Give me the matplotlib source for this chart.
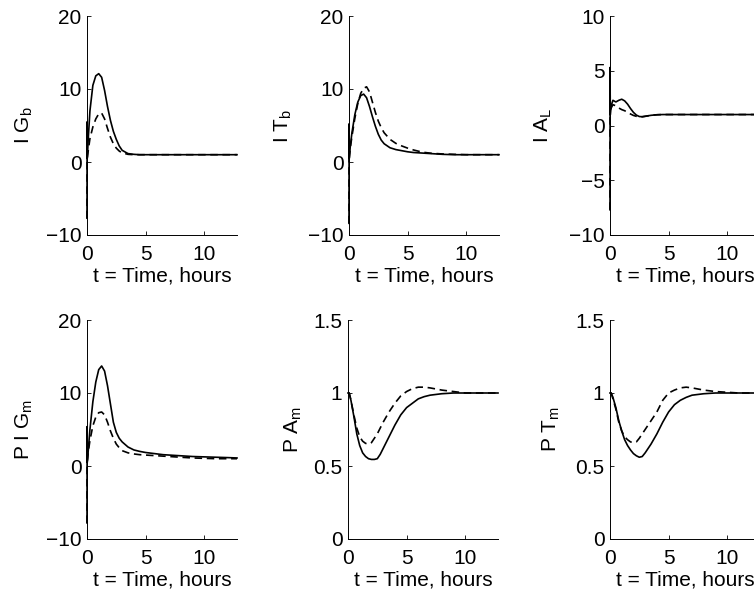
import matplotlib
matplotlib.use("Agg")
import matplotlib.pyplot as plt

plt.rcParams['font.family'] = ['Liberation Sans', 'DejaVu Sans']
plt.rcParams['font.size'] = 15

# time points (hours)
t = [0, 0.01, 0.02, 0.1, 0.25, 0.5, 0.75, 1.0, 1.25, 1.5, 1.75, 2.0, 2.25, 2.5, 2.75,
     3.0, 3.5, 4.0, 4.5, 5.0, 5.5, 6.0, 6.5, 7.0, 8.0, 9.0, 10.0, 11.0, 12.0, 12.8]

# I G_b
ig_b_solid = [-7.7, 5.5, 0.5, 3.0, 7.0, 10.5, 11.8, 12.1, 11.6, 9.8, 7.6, 5.7, 4.2, 3.1, 2.2,
              1.6, 1.15, 1.05, 1.0, 1.0, 1.0, 1.0, 1.0, 1.0, 1.0, 1.0, 1.0, 1.0, 1.0, 1.0]
ig_b_dash = [-7.7, 5.5, 0.5, 1.5, 3.2, 4.8, 5.9, 6.6, 6.7, 5.9, 4.6, 3.4, 2.5, 1.9, 1.5,
             1.25, 1.05, 1.0, 1.0, 1.0, 1.0, 1.0, 1.0, 1.0, 1.0, 1.0, 1.0, 1.0, 1.0, 1.0]

# I T_b
it_b_solid = [-8.4, 5.2, 0.5, 2.0, 4.0, 6.5, 8.2, 9.1, 9.3, 8.8, 7.6, 6.2, 4.9, 3.8, 3.0,
              2.5, 1.95, 1.7, 1.55, 1.4, 1.3, 1.25, 1.2, 1.15, 1.05, 1.0, 1.0, 1.0, 1.0, 1.0]
it_b_dash = [-8.4, 5.2, 0.5, 1.8, 3.5, 6.0, 8.0, 9.4, 10.1, 10.3, 9.6, 8.2, 6.8, 5.6, 4.7,
             4.0, 3.1, 2.55, 2.2, 1.9, 1.65, 1.45, 1.3, 1.2, 1.1, 1.05, 1.0, 1.0, 1.0, 1.0]

# I A_L
ia_l_solid = [-7.7, 5.3, 1.0, 1.8, 2.3, 2.15, 2.3, 2.4, 2.25, 1.95, 1.55, 1.2, 0.95, 0.82, 0.8,
              0.84, 0.93, 0.98, 1.0, 1.0, 1.0, 1.0, 1.0, 1.0, 1.0, 1.0, 1.0, 1.0, 1.0, 1.0]
ia_l_dash = [-7.7, 5.3, 1.0, 1.6, 1.9, 1.8, 1.6, 1.45, 1.35, 1.2, 1.05, 0.92, 0.84, 0.8, 0.8,
             0.84, 0.93, 0.98, 1.0, 1.0, 1.0, 1.0, 1.0, 1.0, 1.0, 1.0, 1.0, 1.0, 1.0, 1.0]

# P I G_m
pig_m_solid = [-7.8, 5.4, 0.5, 2.0, 5.0, 8.8, 11.5, 13.2, 13.7, 13.0, 11.0, 8.5, 6.0, 4.6, 3.8,
               3.3, 2.6, 2.2, 2.0, 1.85, 1.75, 1.65, 1.55, 1.5, 1.4, 1.3, 1.25, 1.2, 1.15, 1.1]
pig_m_dash = [-7.8, 5.4, 0.5, 1.8, 3.5, 5.5, 6.7, 7.3, 7.4, 7.0, 6.0, 4.8, 3.8, 3.0, 2.5,
              2.1, 1.8, 1.65, 1.55, 1.5, 1.45, 1.4, 1.35, 1.3, 1.2, 1.1, 1.05, 1.0, 1.0, 1.0]

# P A_m
pa_m_solid = [1.0, 1.0, 1.0, 1.0, 0.95, 0.84, 0.72, 0.64, 0.59, 0.565, 0.55, 0.545, 0.545, 0.55, 0.58,
              0.62, 0.7, 0.78, 0.85, 0.9, 0.93, 0.96, 0.975, 0.985, 0.995, 1.0, 1.0, 1.0, 1.0, 1.0]
pa_m_dash = [1.0, 1.0, 1.0, 1.0, 0.95, 0.85, 0.76, 0.7, 0.67, 0.655, 0.65, 0.66, 0.69, 0.72, 0.76,
             0.8, 0.87, 0.93, 0.98, 1.01, 1.03, 1.04, 1.04, 1.035, 1.02, 1.01, 1.0, 1.0, 1.0, 1.0]

# P T_m
pt_m_solid = [1.0, 1.0, 1.0, 1.0, 0.97, 0.9, 0.81, 0.74, 0.68, 0.64, 0.61, 0.585, 0.57, 0.56, 0.565,
              0.59, 0.65, 0.72, 0.8, 0.87, 0.92, 0.95, 0.97, 0.985, 0.995, 1.0, 1.0, 1.0, 1.0, 1.0]
pt_m_dash = [1.0, 1.0, 1.0, 1.0, 0.96, 0.89, 0.8, 0.74, 0.7, 0.68, 0.665, 0.66, 0.665, 0.69, 0.72,
             0.75, 0.81, 0.87, 0.95, 1.0, 1.02, 1.035, 1.04, 1.035, 1.02, 1.01, 1.005, 1.0, 1.0, 1.0]

ylabels = ['I G$_\\mathregular{b}$', 'I T$_\\mathregular{b}$', 'I A$_\\mathregular{L}$',
           'P I G$_\\mathregular{m}$', 'P A$_\\mathregular{m}$', 'P T$_\\mathregular{m}$']
solids = [ig_b_solid, it_b_solid, ia_l_solid, pig_m_solid, pa_m_solid, pt_m_solid]
dashes = [ig_b_dash, it_b_dash, ia_l_dash, pig_m_dash, pa_m_dash, pt_m_dash]
ylims = [(-10, 20), (-10, 20), (-10, 10), (-10, 20), (0, 1.5), (0, 1.5)]
yticks = [[-10, 0, 10, 20], [-10, 0, 10, 20], [-10, -5, 0, 5, 10],
          [-10, 0, 10, 20], [0, 0.5, 1, 1.5], [0, 0.5, 1, 1.5]]
ytick_labels = [['\u221210', '0', '10', '20'], ['\u221210', '0', '10', '20'],
                ['\u221210', '\u22125', '0', '5', '10'], ['\u221210', '0', '10', '20'],
                ['0', '0.5', '1', '1.5'], ['0', '0.5', '1', '1.5']]

# axes placement in pixels (left, top) for a 754x593 figure
W, H = 754, 593
lefts = [87, 349, 610, 87, 348, 610]
tops = [16, 16, 16, 320, 320, 320]
label_x = [-0.35, -0.37, -0.37, -0.35, -0.29, -0.32]
aw, ah = 150, 219

fig = plt.figure(figsize=(W / 100, H / 100), dpi=100)

for i in range(6):
    ax = fig.add_axes([lefts[i] / W, 1 - (tops[i] + ah) / H, aw / W, ah / H])
    # lines drawn over the spines so the jump at t=0 stays visible
    ax.plot(t, solids[i], color='black', lw=1.2, zorder=3, clip_on=False)
    ax.plot(t, dashes[i], color='black', lw=1.2, dashes=(4.5, 2.8), zorder=3, clip_on=False)
    ax.set_xlim(0, 12.8)
    ax.set_ylim(*ylims[i])
    ax.set_xticks([0, 5, 10])
    ax.set_yticks(yticks[i])
    ax.set_yticklabels(ytick_labels[i])
    ax.spines['top'].set_visible(False)
    ax.spines['right'].set_visible(False)
    for s in ['left', 'bottom']:
        ax.spines[s].set_linewidth(0.7)
    ax.tick_params(direction='in', length=3, width=0.6, labelsize=15)
    ax.tick_params(axis='x', pad=7)
    ax.tick_params(axis='y', pad=4)
    ax.set_xlabel('t = Time, hours', fontsize=15)
    ax.xaxis.set_label_coords(0.5, -0.145)
    ax.set_ylabel(ylabels[i], fontsize=15)
    ax.yaxis.set_label_coords(label_x[i], 0.5)

fig.savefig('out.png', dpi=100)
